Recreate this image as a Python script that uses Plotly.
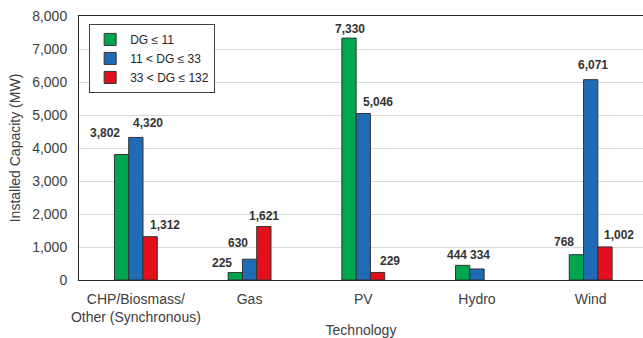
import plotly.graph_objects as go

categories = ["CHP/Biosmass/<br>Other (Synchronous)", "Gas", "PV", "Hydro", "Wind"]
series_names = ["DG ≤ 11", "11 < DG ≤ 33", "33 < DG ≤ 132"]
dg_le_11 = [3802, 225, 7330, 444, 768]
dg_11_33 = [4320, 630, 5046, 334, 6071]
dg_33_132 = [1312, 1621, 229, None, 1002]
y_ticks = [0, 1000, 2000, 3000, 4000, 5000, 6000, 7000, 8000]

colors = ["#00a64f", "#1f6bb5", "#e3101b"]
# label nudges (pixels) per series/category, mimicking the hand-placed labels
label_dx = [[-17, -13, 1, -6, -12], [12, -12, 15, 3, 2], [15, 0, 12, 0, 14]]
label_dy = [[22, 10, 9, 10, 13], [14, 16, 11, 14, 15], [12, 11, 11, 0, 12]]

FONT = "Liberation Sans, Arial, sans-serif"
series = [dg_le_11, dg_11_33, dg_33_132]
bargap = 0.623
bar_w = (1 - bargap) / 3

fig = go.Figure()
for name, vals, col in zip(series_names, series, colors):
    fig.add_trace(go.Bar(
        x=categories, y=vals, name=name,
        marker=dict(color=col, line=dict(color="#333333", width=1)),
    ))

annotations = []
for k, vals in enumerate(series):
    for i, v in enumerate(vals):
        if v is None:
            continue
        annotations.append(dict(
            x=i + (k - 1) * bar_w, y=v, xref="x", yref="y",
            text=f"<b>{v:,}</b>", showarrow=False,
            xanchor="center", yanchor="middle",
            xshift=label_dx[k][i], yshift=label_dy[k][i],
            font=dict(family=FONT, size=12, color="#333333"),
        ))

fig.update_layout(
    width=643, height=338,
    margin=dict(l=79, r=0, t=16, b=58),
    paper_bgcolor="white", plot_bgcolor="white",
    barmode="group", bargap=bargap, bargroupgap=0,
    font=dict(family=FONT, size=14, color="#404040"),
    showlegend=True,
    legend=dict(
        x=0.018, y=0.97, xanchor="left", yanchor="top",
        bordercolor="#404040", borderwidth=1, bgcolor="white",
        font=dict(family=FONT, size=12, color="#262626"),
        tracegroupgap=0, itemwidth=30,
    ),
    annotations=annotations,
)
fig.update_xaxes(
    range=[-0.5, 4.46], showline=True, linecolor="#262626", linewidth=1,
    mirror=True, ticks="", showgrid=False, ticklabelstandoff=6,
    tickfont=dict(family=FONT, size=14, color="#404040"),
    title=dict(text="Technology", font=dict(family=FONT, size=14, color="#404040"), standoff=6),
    automargin=False,
)
fig.update_yaxes(
    range=[0, 8000], tickvals=y_ticks, tickformat=",d",
    showline=True, linecolor="#262626", linewidth=1, mirror=False,
    showgrid=True, gridcolor="#d9d9d9", gridwidth=1, zeroline=False,
    ticks="", ticklabelstandoff=8,
    tickfont=dict(family=FONT, size=14, color="#404040"),
    title=dict(text="Installed Capacity (MW)", font=dict(family=FONT, size=14, color="#404040"), standoff=8),
    automargin=False,
)

fig.write_html("out.html", config={"displayModeBar": False},
               post_script="document.body.style.margin='0px';")
